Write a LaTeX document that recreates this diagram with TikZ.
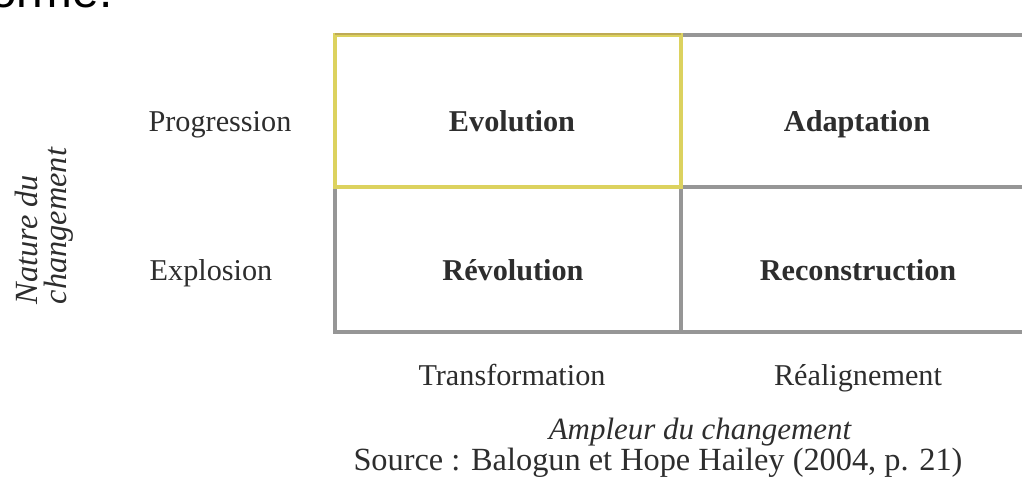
\documentclass[tikz,border=0pt]{standalone}
\usepackage{fontspec}
\setmainfont{Liberation Serif}
\newfontfamily\bigsans{Liberation Sans}
\definecolor{gridgray}{RGB}{150,150,150}
\definecolor{hlyellow}{RGB}{220,210,95}
\definecolor{hlolive}{RGB}{190,170,85}
\definecolor{txt}{RGB}{45,45,45}
\begin{document}
\begin{tikzpicture}[x=0.025cm,y=-0.025cm,
  lbl/.style={font=\fontsize{21.5}{24}\selectfont, text=txt, inner sep=0pt, anchor=base},
  cell/.style={font=\fontsize{21.5}{24}\selectfont\bfseries, text=txt, inner sep=0pt, anchor=base},
  axis/.style={font=\fontsize{22}{24}\selectfont\itshape, text=txt, inner sep=0pt},
  gridline/.style={draw=gridgray, line width=2.3pt},
  hlbox/.style={draw=hlyellow, line width=3pt}]
\useasboundingbox (0,0) rectangle (1022,483);
\clip (0,0) rectangle (1022,483);
% fragment of large text cut at top
\node[anchor=base west, inner sep=0pt, font=\bigsans\fontsize{34}{38}\selectfont] (frag) at (-10,7) {orme.};
% grid coordinates
\coordinate (tl) at (335,35);
\coordinate (tm) at (681,35);
\coordinate (tr) at (1035,35);
\coordinate (ml) at (335,187);
\coordinate (mm) at (681,187);
\coordinate (mr) at (1035,187);
\coordinate (bl) at (335,332);
\coordinate (bm) at (681,332);
\coordinate (br) at (1035,332);
% grid lines
\draw[gridline] (tm) -- (tr);
\draw[gridline] (mm) -- (mr);
\draw[gridline] (ml) -- (bl) -- (br);
\draw[gridline] (mm) -- (bm);
% highlighted cell
\draw[hlbox] (tl) rectangle (mm);
\draw[draw=hlolive, line width=1.5pt] ([yshift=0.6pt]tl) -- ([yshift=0.6pt]tm);
% cell texts
\node[cell] (evo) at (512,131) {Evolution};
\node[cell] (ada) at (857,131) {Adaptation};
\node[cell] (rev) at (513,280) {Révolution};
\node[cell] (rec) at (858,280) {Reconstruction};
% row labels
\node[lbl] (prog) at (220,131) {Progression};
\node[lbl] (expl) at (211,280) {Explosion};
% column labels
\node[lbl] (trans) at (512,385) {Transformation};
\node[lbl] (real) at (858,385) {Réalignement};
% axis titles
\node[axis, rotate=90, align=left, font=\fontsize{23}{21}\selectfont\itshape] (nat) at (44,226) {Nature du\\changement};
\node[axis, anchor=base] (amp) at (700,439) {Ampleur du changement};
\node[lbl, font=\fontsize{23}{26}\selectfont] (src) at (658,470) {Source : Balogun et Hope Hailey (2004, p. 21)};
\end{tikzpicture}
\end{document}
